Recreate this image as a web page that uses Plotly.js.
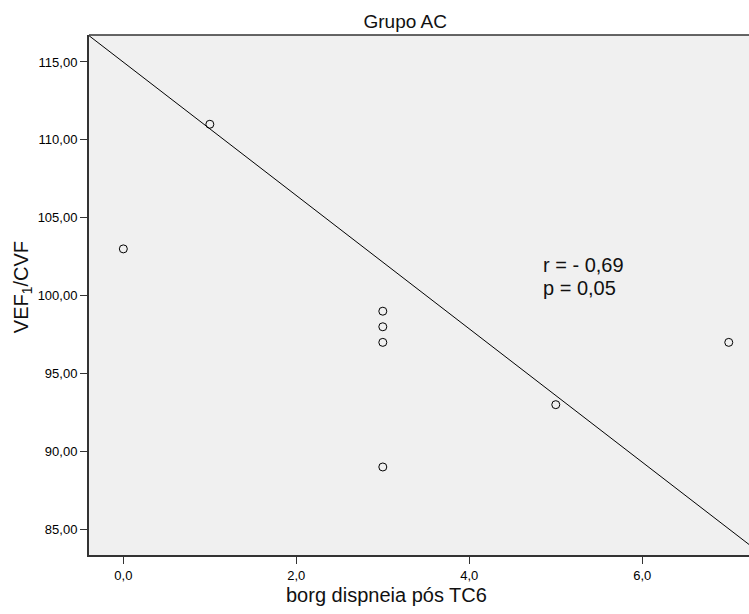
<!DOCTYPE html>
<html>
<head>
<meta charset="utf-8">
<script src="https://cdn.plot.ly/plotly-3.0.1.min.js"></script>
<style>html,body{margin:0;padding:0;background:#fff;}#chart{width:749px;height:614px;}</style>
</head>
<body>
<div id="chart"></div>
<script>
var borgX = [0, 1, 3, 3, 3, 3, 5, 7];
var vefCvfY = [103, 111, 99, 98, 97, 89, 93, 97];
var fitX = [-0.4, 7.24];
var fitY = [116.7, 84.0];
var xTicks = [0, 2, 4, 6];
var yTicks = [85, 90, 95, 100, 105, 110, 115];
var statsText = ["r = - 0,69", "p = 0,05"];
var xTitle = 'borg dispneia pós TC6';
var yTitle = 'VEF<sub>1</sub>/CVF';

var traces = [
  {x: fitX, y: fitY, mode: 'lines', type: 'scatter', line: {color: '#000', width: 1}, hoverinfo: 'skip'},
  {x: borgX, y: vefCvfY, mode: 'markers', type: 'scatter',
   marker: {symbol: 'circle-open', size: 8, color: '#000', line: {width: 1, color: '#000'}}}
];

var layout = {
  width: 749, height: 614,
  margin: {l: 89, r: 0, t: 35, b: 59},
  separators: ',.',
  showlegend: false,
  paper_bgcolor: '#fff',
  plot_bgcolor: '#f0f0f0',
  font: {family: 'Arial, "Liberation Sans", sans-serif', color: '#000', size: 13},
  title: {text: 'Grupo AC', x: 0.541, xanchor: 'center', y: 0.966, yanchor: 'middle', font: {size: 19, color: '#111'}},
  xaxis: {
    range: [-0.397, 7.234], tickvals: xTicks, tickformat: '.1f',
    ticks: 'outside', ticklen: 7, tickcolor: '#333', showgrid: false, zeroline: false,
    showline: true, linecolor: '#333', linewidth: 2, mirror: false,
    tickfont: {size: 13, color: '#000'}
  },
  yaxis: {
    range: [83.35, 116.73], tickvals: yTicks, tickformat: '.2f',
    ticks: 'outside', ticklen: 7, tickcolor: '#333', showgrid: false, zeroline: false,
    showline: true, linecolor: '#333', linewidth: 2,
    tickfont: {size: 13, color: '#000'}
  },
  shapes: [
    {type: 'line', xref: 'paper', yref: 'paper', x0: 0, x1: 1, y0: 1, y1: 1, line: {color: '#333', width: 1.5}}
  ],
  annotations: [
    {x: 4.83, y: 101.99, xref: 'x', yref: 'y', text: statsText[0], showarrow: false, xanchor: 'left', yanchor: 'middle', font: {size: 20, color: '#111'}},
    {x: 4.83, y: 100.5, xref: 'x', yref: 'y', text: statsText[1], showarrow: false, xanchor: 'left', yanchor: 'middle', font: {size: 20, color: '#111'}},
    {x: 0.45, y: -0.077, xref: 'paper', yref: 'paper', text: xTitle, showarrow: false, xanchor: 'center', yanchor: 'middle', font: {size: 20, color: '#111'}},
    {x: -0.1015, y: 0.515, xref: 'paper', yref: 'paper', text: yTitle, textangle: -90, showarrow: false, xanchor: 'center', yanchor: 'middle', font: {size: 20, color: '#111'}}
  ]
};

Plotly.newPlot('chart', traces, layout, {displayModeBar: false, staticPlot: true});
</script>
</body>
</html>
